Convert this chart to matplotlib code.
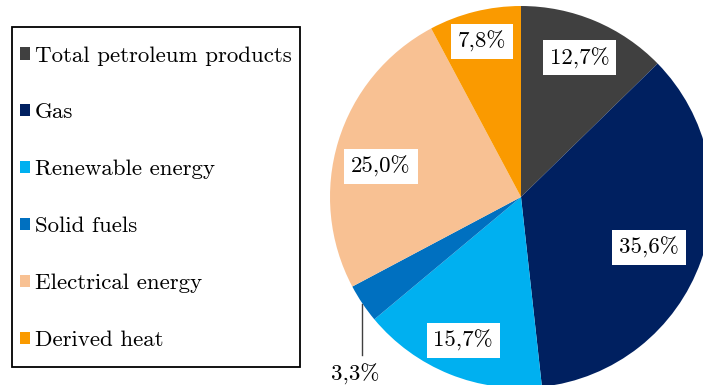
import matplotlib
matplotlib.use('Agg')
import matplotlib.pyplot as plt
from matplotlib.patches import Patch, Rectangle
import numpy as np

plt.rcParams['font.family'] = ['cmr10', 'DejaVu Serif']
plt.rcParams['mathtext.fontset'] = 'cm'
plt.rcParams['axes.unicode_minus'] = False

# Energy mix shares (%)
labels = ['Total petroleum products', 'Gas', 'Renewable energy', 'Solid fuels',
          'Electrical energy', 'Derived heat']
shares = [12.7, 35.6, 15.7, 3.3, 25.0, 7.8]
colors = ['#404040', '#002060', '#00B0F0', '#0070C0', '#F8C193', '#FA9A00']
# label placement: radius (fraction of pie radius) and angular nudge in degrees
label_radius = [0.79, 0.72, 0.81, None, 0.75, 0.84]
label_nudge = [0, -2, 0, 0, 4.8, 0]

W, H = 703, 385
FS = 16.5
fig = plt.figure(figsize=(W / 100, H / 100), dpi=100)

# pie axes: centre (521, 197) px, radius 191 px
cx, cy, r = 521, 197, 191
ax = fig.add_axes([(cx - r) / W, (H - cy - r) / H, 2 * r / W, 2 * r / H])
wedges, _ = ax.pie(shares, colors=colors, startangle=90, counterclock=False,
                   radius=1, wedgeprops=dict(linewidth=0))
ax.set_xlim(-1, 1)
ax.set_ylim(-1, 1)
ax.set_aspect('equal')
ax.axis('off')

for w, v, rad, nudge in zip(wedges, shares, label_radius, label_nudge):
    mid = np.deg2rad((w.theta1 + w.theta2) / 2 + nudge)
    txt = f'{v:.1f}'.replace('.', ',') + '%'
    if rad is None:
        # small slice: label below with a leader line
        x0, y0 = np.cos(mid), np.sin(mid)
        ax.plot([x0, x0], [y0, y0 - 0.27], color='#404040', lw=1, clip_on=False)
        ax.text(x0 - 0.04, y0 - 0.37, txt, ha='center', va='center', fontsize=FS,
                clip_on=False)
    else:
        ax.text(rad * np.cos(mid), rad * np.sin(mid), txt, ha='center', va='center',
                fontsize=FS,
                bbox=dict(boxstyle='square,pad=0.3', fc='white', ec='none'))

handles = [Patch(facecolor=c, edgecolor='none') for c in colors]
leg = fig.legend(handles, labels, loc='upper left',
                 bbox_to_anchor=(20 / W, 1 - 46 / H), fontsize=FS,
                 handlelength=0.45, handleheight=0.45, handletextpad=0.2,
                 labelspacing=1.63, borderpad=0, borderaxespad=0,
                 frameon=False)

# legend frame
fig.patches.append(Rectangle((12 / W, 1 - 367 / H), 288 / W, 340 / H,
                             transform=fig.transFigure, fill=False,
                             edgecolor='black', linewidth=1.3))

fig.savefig('out.png', dpi=100)
